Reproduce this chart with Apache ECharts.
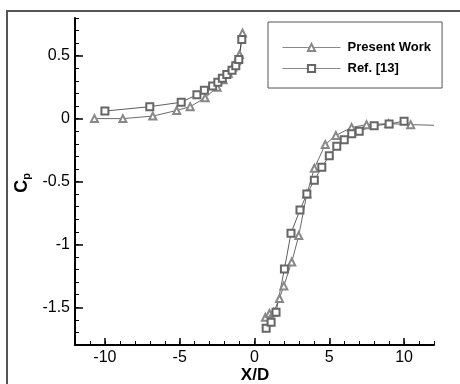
<!DOCTYPE html>
<html>
<head>
<meta charset="utf-8">
<script src="https://cdn.jsdelivr.net/npm/echarts@6/dist/echarts.min.js"></script>
<style>html,body{margin:0;padding:0;background:#fff}#c{width:460px;height:384px}</style>
</head>
<body>
<div id="c"></div>
<script>
// ---- data ----
var presentLeftX  = [-10.7, -8.8, -6.8, -5.2, -4.3, -3.3, -2.5, -2.1, -1.75, -1.45, -1.2, -1.0, -0.8];
var presentLeftY  = [0.0, 0.0, 0.02, 0.065, 0.095, 0.165, 0.25, 0.31, 0.36, 0.41, 0.46, 0.51, 0.68];
var presentRightX = [0.73, 1.0, 1.27, 1.67, 1.96, 2.49, 2.96, 3.5, 4.0, 4.73, 5.44, 6.49, 7.49, 8.96, 10.44, 12.0];
var presentRightY = [-1.58, -1.55, -1.54, -1.43, -1.33, -1.14, -0.93, -0.6, -0.395, -0.206, -0.134, -0.07, -0.048, -0.04, -0.048, -0.053];
var refLeftX  = [-10.0, -7.0, -4.9, -3.85, -3.35, -2.8, -2.45, -2.15, -1.85, -1.5, -1.25, -1.05, -0.85];
var refLeftY  = [0.06, 0.095, 0.13, 0.19, 0.225, 0.26, 0.29, 0.32, 0.35, 0.385, 0.42, 0.47, 0.63];
var refRightX = [0.78, 1.11, 1.44, 2.0, 2.44, 3.04, 3.5, 4.0, 4.5, 5.0, 5.5, 6.0, 6.5, 7.0, 8.0, 9.0, 10.0];
var refRightY = [-1.667, -1.62, -1.54, -1.195, -0.912, -0.726, -0.6, -0.49, -0.387, -0.296, -0.22, -0.168, -0.12, -0.10, -0.056, -0.043, -0.02];
var xTickLabels = [-10, -5, 0, 5, 10];
var yTickLabels = [-1.5, -1, -0.5, 0, 0.5];
var seriesNames = ['Present Work', 'Ref. [13]'];

function pairs(xs, ys) { return xs.map(function (x, i) { return [x, ys[i]]; }); }

var FONT = '"Liberation Sans", Arial, sans-serif';
var chart = echarts.init(document.getElementById('c'), null, {renderer: 'canvas'});

function mkSeries(name, xs, ys, sym, lineCol, symCol, hideLast) {
  var d = pairs(xs, ys);
  if (hideLast) {
    var last = d.pop();
    d.push({value: last, symbol: 'none'});
  }
  return {
    type: 'line', name: name, data: d, xAxisIndex: 0, yAxisIndex: 0,
    symbol: sym, symbolSize: 7, showSymbol: true, animation: false,
    lineStyle: {color: lineCol, width: 0.8},
    itemStyle: {color: symCol, borderWidth: 0.9},
    z: 5
  };
}

var axisLineStyle = {show: true, onZero: false, lineStyle: {color: '#000', width: 2}};

var option = {
  backgroundColor: '#fff',
  animation: false,
  grid: {left: 75, right: 26, top: 18, bottom: 39},
  xAxis: [
    {
      type: 'value', min: -12, max: 12, position: 'bottom',
      axisLine: axisLineStyle,
      splitLine: {show: false},
      axisTick: {show: true, inside: true, length: 7, lineStyle: {color: '#000', width: 1.5}, customValues: xTickLabels},
      axisLabel: {show: true, margin: 5, color: '#000', fontSize: 16, fontFamily: FONT, customValues: xTickLabels}
    },
    {
      type: 'value', min: -12, max: 12, interval: 1, position: 'bottom',
      axisLine: {show: false, onZero: false}, splitLine: {show: false},
      axisTick: {show: true, inside: true, length: 4, lineStyle: {color: '#000', width: 1}},
      axisLabel: {show: false}
    }
  ],
  yAxis: [
    {
      type: 'value', min: -1.8, max: 0.8, position: 'left',
      axisLine: axisLineStyle,
      splitLine: {show: false},
      axisTick: {show: true, inside: true, length: 8, lineStyle: {color: '#000', width: 1.5}, customValues: yTickLabels},
      axisLabel: {show: true, margin: 5, color: '#000', fontSize: 16, fontFamily: FONT, customValues: yTickLabels}
    },
    {
      type: 'value', min: -1.8, max: 0.8, interval: 0.1, position: 'left',
      axisLine: {show: false, onZero: false}, splitLine: {show: false},
      axisTick: {show: true, inside: true, length: 4, lineStyle: {color: '#000', width: 1}},
      axisLabel: {show: false}
    }
  ],
  legend: {
    orient: 'vertical', left: 268, top: 22,
    data: seriesNames,
    padding: [18, 11, 12, 14],
    itemWidth: 58, itemHeight: 9, itemGap: 6,
    borderColor: '#555', borderWidth: 1, backgroundColor: '#fff',
    lineStyle: {width: 1, color: '#888'},
    itemStyle: {borderWidth: 1},
    textStyle: {fontSize: 13, fontWeight: 'bold', fontFamily: FONT, color: '#000', lineHeight: 15, padding: [0, 0, 0, 2]}
  },
  series: [
    mkSeries(seriesNames[0], presentLeftX, presentLeftY, 'emptyTriangle', '#444', '#888', false),
    mkSeries(seriesNames[0], presentRightX, presentRightY, 'emptyTriangle', '#444', '#888', true),
    mkSeries(seriesNames[1], refLeftX, refLeftY, 'emptyRect', '#333', '#666', false),
    mkSeries(seriesNames[1], refRightX, refRightY, 'emptyRect', '#333', '#666', false)
  ],
  graphic: [
    {type: 'polyline', shape: {points: [[7, 400], [7, 11], [470, 11]]}, style: {fill: null, stroke: '#555', lineWidth: 2}, silent: true},
    {type: 'text', x: 255, y: 375, style: {text: 'X/D', fontSize: 17, fontWeight: 'bold', fontFamily: FONT, fill: '#000', align: 'center', verticalAlign: 'middle'}},
    {type: 'text', x: 22, y: 183, rotation: Math.PI / 2,
      style: {
        text: '{a|C}{b|p}', align: 'center', verticalAlign: 'middle', fill: '#000',
        rich: {
          a: {fontSize: 18, fontWeight: 'bold', fontFamily: FONT, fill: '#000', lineHeight: 20},
          b: {fontSize: 11, fontWeight: 'bold', fontFamily: FONT, fill: '#000', verticalAlign: 'bottom', lineHeight: 20, padding: [8, 0, 0, 0]}
        }
      }
    }
  ]
};
chart.setOption(option);
</script>
</body>
</html>
